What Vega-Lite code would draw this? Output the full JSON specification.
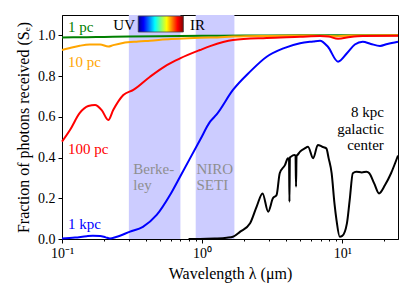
{
  "$schema": "https://vega.github.io/schema/vega-lite/v6.json",
  "width": 336,
  "height": 224,
  "autosize": {"type": "none"},
  "padding": {"left": 62, "top": 15, "right": 17, "bottom": 56},
  "background": "white",
  "config": {
    "view": {"stroke": "black", "strokeWidth": 1},
    "font": "Liberation Serif",
    "axis": {
      "grid": false,
      "domainColor": "black",
      "tickColor": "black",
      "labelColor": "black",
      "titleColor": "black",
      "labelFont": "Liberation Serif",
      "titleFont": "Liberation Serif",
      "labelFontSize": 14,
      "titleFontSize": 16,
      "titleFontWeight": "normal"
    }
  },
  "datasets": {
    "bands": [
      {"lam": 0.3, "lam2": 0.7, "frac": 0, "frac2": 1.1},
      {"lam": 0.9, "lam2": 1.7, "frac": 0, "frac2": 1.1}
    ],
    "curves": [
      {"series": "1 pc", "lam": 0.1, "frac": 0.990},
      {"series": "1 pc", "lam": 0.15, "frac": 0.991},
      {"series": "1 pc", "lam": 0.2, "frac": 0.992},
      {"series": "1 pc", "lam": 0.3, "frac": 0.994},
      {"series": "1 pc", "lam": 0.5, "frac": 0.996},
      {"series": "1 pc", "lam": 1, "frac": 0.998},
      {"series": "1 pc", "lam": 2, "frac": 0.999},
      {"series": "1 pc", "lam": 5, "frac": 1.0},
      {"series": "1 pc", "lam": 25, "frac": 1.0},

      {"series": "10 pc", "lam": 0.1, "frac": 0.928},
      {"series": "10 pc", "lam": 0.114, "frac": 0.938},
      {"series": "10 pc", "lam": 0.134, "frac": 0.949},
      {"series": "10 pc", "lam": 0.158, "frac": 0.955},
      {"series": "10 pc", "lam": 0.187, "frac": 0.955},
      {"series": "10 pc", "lam": 0.214, "frac": 0.945},
      {"series": "10 pc", "lam": 0.232, "frac": 0.952},
      {"series": "10 pc", "lam": 0.272, "frac": 0.963},
      {"series": "10 pc", "lam": 0.35, "frac": 0.970},
      {"series": "10 pc", "lam": 0.425, "frac": 0.974},
      {"series": "10 pc", "lam": 0.6, "frac": 0.982},
      {"series": "10 pc", "lam": 0.8, "frac": 0.986},
      {"series": "10 pc", "lam": 1.12, "frac": 0.989},
      {"series": "10 pc", "lam": 1.7, "frac": 0.994},
      {"series": "10 pc", "lam": 3, "frac": 0.997},
      {"series": "10 pc", "lam": 6, "frac": 0.999},
      {"series": "10 pc", "lam": 9.3, "frac": 0.996},
      {"series": "10 pc", "lam": 12, "frac": 0.999},
      {"series": "10 pc", "lam": 25, "frac": 1.0},

      {"series": "100 pc", "lam": 0.1, "frac": 0.478},
      {"series": "100 pc", "lam": 0.114, "frac": 0.535},
      {"series": "100 pc", "lam": 0.134, "frac": 0.619},
      {"series": "100 pc", "lam": 0.154, "frac": 0.653},
      {"series": "100 pc", "lam": 0.172, "frac": 0.658},
      {"series": "100 pc", "lam": 0.192, "frac": 0.633},
      {"series": "100 pc", "lam": 0.214, "frac": 0.584},
      {"series": "100 pc", "lam": 0.232, "frac": 0.633},
      {"series": "100 pc", "lam": 0.274, "frac": 0.707},
      {"series": "100 pc", "lam": 0.323, "frac": 0.732},
      {"series": "100 pc", "lam": 0.425, "frac": 0.797},
      {"series": "100 pc", "lam": 0.56, "frac": 0.854},
      {"series": "100 pc", "lam": 0.696, "frac": 0.887},
      {"series": "100 pc", "lam": 0.966, "frac": 0.928},
      {"series": "100 pc", "lam": 1.14, "frac": 0.947},
      {"series": "100 pc", "lam": 1.66, "frac": 0.977},
      {"series": "100 pc", "lam": 2.89, "frac": 0.987},
      {"series": "100 pc", "lam": 5.0, "frac": 0.993},
      {"series": "100 pc", "lam": 6.94, "frac": 0.997},
      {"series": "100 pc", "lam": 8.0, "frac": 0.994},
      {"series": "100 pc", "lam": 9.33, "frac": 0.983},
      {"series": "100 pc", "lam": 11.4, "frac": 0.992},
      {"series": "100 pc", "lam": 14, "frac": 0.997},
      {"series": "100 pc", "lam": 25, "frac": 0.998},

      {"series": "1 kpc", "lam": 0.1, "frac": 0.003},
      {"series": "1 kpc", "lam": 0.124, "frac": 0.007},
      {"series": "1 kpc", "lam": 0.15, "frac": 0.014},
      {"series": "1 kpc", "lam": 0.166, "frac": 0.016},
      {"series": "1 kpc", "lam": 0.187, "frac": 0.015},
      {"series": "1 kpc", "lam": 0.205, "frac": 0.008},
      {"series": "1 kpc", "lam": 0.22, "frac": 0.003},
      {"series": "1 kpc", "lam": 0.243, "frac": 0.010},
      {"series": "1 kpc", "lam": 0.306, "frac": 0.036},
      {"series": "1 kpc", "lam": 0.378, "frac": 0.060},
      {"series": "1 kpc", "lam": 0.474, "frac": 0.118},
      {"series": "1 kpc", "lam": 0.59, "frac": 0.216},
      {"series": "1 kpc", "lam": 0.696, "frac": 0.306},
      {"series": "1 kpc", "lam": 0.966, "frac": 0.486},
      {"series": "1 kpc", "lam": 1.14, "frac": 0.576},
      {"series": "1 kpc", "lam": 1.27, "frac": 0.612},
      {"series": "1 kpc", "lam": 1.66, "frac": 0.732},
      {"series": "1 kpc", "lam": 2.2, "frac": 0.822},
      {"series": "1 kpc", "lam": 2.89, "frac": 0.895},
      {"series": "1 kpc", "lam": 3.8, "frac": 0.936},
      {"series": "1 kpc", "lam": 5.0, "frac": 0.961},
      {"series": "1 kpc", "lam": 6.2, "frac": 0.970},
      {"series": "1 kpc", "lam": 6.94, "frac": 0.974},
      {"series": "1 kpc", "lam": 7.9, "frac": 0.944},
      {"series": "1 kpc", "lam": 9.33, "frac": 0.871},
      {"series": "1 kpc", "lam": 10.8, "frac": 0.912},
      {"series": "1 kpc", "lam": 12.3, "frac": 0.955},
      {"series": "1 kpc", "lam": 14, "frac": 0.969},
      {"series": "1 kpc", "lam": 16, "frac": 0.958},
      {"series": "1 kpc", "lam": 18.6, "frac": 0.948},
      {"series": "1 kpc", "lam": 21, "frac": 0.958},
      {"series": "1 kpc", "lam": 25, "frac": 0.969},

      {"series": "8 kpc", "lam": 0.8, "frac": 0.0},
      {"series": "8 kpc", "lam": 0.966, "frac": 0.0},
      {"series": "8 kpc", "lam": 1.23, "frac": 0.002},
      {"series": "8 kpc", "lam": 1.5, "frac": 0.006},
      {"series": "8 kpc", "lam": 1.66, "frac": 0.011},
      {"series": "8 kpc", "lam": 1.87, "frac": 0.036},
      {"series": "8 kpc", "lam": 2.2, "frac": 0.077},
      {"series": "8 kpc", "lam": 2.45, "frac": 0.159},
      {"series": "8 kpc", "lam": 2.7, "frac": 0.224},
      {"series": "8 kpc", "lam": 2.96, "frac": 0.134},
      {"series": "8 kpc", "lam": 3.2, "frac": 0.200},
      {"series": "8 kpc", "lam": 3.4, "frac": 0.216},
      {"series": "8 kpc", "lam": 3.58, "frac": 0.323},
      {"series": "8 kpc", "lam": 3.9, "frac": 0.363},
      {"series": "8 kpc", "lam": 4.1, "frac": 0.396},
      {"series": "8 kpc", "lam": 4.17, "frac": 0.395},
      {"series": "8 kpc", "lam": 4.2, "frac": 0.183},
      {"series": "8 kpc", "lam": 4.23, "frac": 0.40},
      {"series": "8 kpc", "lam": 4.3, "frac": 0.404},
      {"series": "8 kpc", "lam": 4.55, "frac": 0.412},
      {"series": "8 kpc", "lam": 4.64, "frac": 0.41},
      {"series": "8 kpc", "lam": 4.68, "frac": 0.257},
      {"series": "8 kpc", "lam": 4.72, "frac": 0.41},
      {"series": "8 kpc", "lam": 4.78, "frac": 0.412},
      {"series": "8 kpc", "lam": 5.0, "frac": 0.429},
      {"series": "8 kpc", "lam": 5.4, "frac": 0.445},
      {"series": "8 kpc", "lam": 5.7, "frac": 0.453},
      {"series": "8 kpc", "lam": 6.2, "frac": 0.396},
      {"series": "8 kpc", "lam": 6.7, "frac": 0.462},
      {"series": "8 kpc", "lam": 7.2, "frac": 0.453},
      {"series": "8 kpc", "lam": 7.7, "frac": 0.445},
      {"series": "8 kpc", "lam": 8.0, "frac": 0.396},
      {"series": "8 kpc", "lam": 8.4, "frac": 0.323},
      {"series": "8 kpc", "lam": 8.8, "frac": 0.175},
      {"series": "8 kpc", "lam": 9.1, "frac": 0.093},
      {"series": "8 kpc", "lam": 9.6, "frac": 0.011},
      {"series": "8 kpc", "lam": 10.0, "frac": 0.015},
      {"series": "8 kpc", "lam": 10.8, "frac": 0.077},
      {"series": "8 kpc", "lam": 11.3, "frac": 0.191},
      {"series": "8 kpc", "lam": 11.9, "frac": 0.323},
      {"series": "8 kpc", "lam": 12.6, "frac": 0.330},
      {"series": "8 kpc", "lam": 13.8, "frac": 0.327},
      {"series": "8 kpc", "lam": 14.9, "frac": 0.330},
      {"series": "8 kpc", "lam": 15.6, "frac": 0.323},
      {"series": "8 kpc", "lam": 16.9, "frac": 0.273},
      {"series": "8 kpc", "lam": 18.3, "frac": 0.224},
      {"series": "8 kpc", "lam": 20.2, "frac": 0.265},
      {"series": "8 kpc", "lam": 22.3, "frac": 0.323},
      {"series": "8 kpc", "lam": 25, "frac": 0.410}
    ],
    "labels": [
      {"series": "1 pc", "lam": 0.1104, "frac": 1.042, "text": "1 pc"},
      {"series": "10 pc", "lam": 0.1104, "frac": 0.870, "text": "10 pc"},
      {"series": "100 pc", "lam": 0.1104, "frac": 0.442, "text": "100 pc"},
      {"series": "1 kpc", "lam": 0.1104, "frac": 0.072, "text": "1 kpc"}
    ],
    "bandlabels": [
      {"lam": 0.323, "frac": 0.378, "text": "Berke-\nley"},
      {"lam": 0.912, "frac": 0.378, "text": "NIRO\nSETI"}
    ],
    "gc": [
      {"lam": 19.8, "frac": 0.658, "text": "8 kpc\ngalactic\ncenter"}
    ],
    "cbar": [
      {"lam": 0.350, "lam2": 0.735, "frac": 1.0165, "frac2": 1.095}
    ],
    "uv": [
      {"lam": 0.332, "frac": 1.052, "text": "UV"}
    ],
    "ir": [
      {"lam": 0.818, "frac": 1.052, "text": "IR"}
    ]
  },
  "encoding": {
    "x": {
      "field": "lam",
      "type": "quantitative",
      "scale": {"type": "log", "domain": [0.1, 25], "nice": false, "zero": false},
      "axis": {
        "title": "Wavelength λ (μm)",
        "values": [0.1, 0.2, 0.3, 0.4, 0.5, 0.6, 0.7, 0.8, 0.9, 1, 2, 3, 4, 5, 6, 7, 8, 9, 10, 20],
        "labelExpr": "datum.value == 0.1 ? '10⁻¹' : (datum.value == 1 ? '10⁰' : (datum.value == 10 ? '10¹' : ''))",
        "tickSize": {"condition": {"test": "datum.value == 0.1 || datum.value == 1 || datum.value == 10", "value": 4}, "value": 2},
        "labelOverlap": false,
        "labelFlush": false,
        "labelPadding": 3,
        "titlePadding": 5
      }
    },
    "y": {
      "field": "frac",
      "type": "quantitative",
      "scale": {"domain": [0, 1.1], "nice": false, "zero": false},
      "axis": {
        "title": "Fraction of photons received (Sₑ)",
        "values": [0, 0.2, 0.4, 0.6, 0.8, 1.0],
        "format": ".1f",
        "tickSize": 4,
        "labelPadding": 3,
        "titlePadding": 6
      }
    }
  },
  "layer": [
    {
      "data": {"name": "bands"},
      "mark": {"type": "rect", "color": "#ccccff", "opacity": 1},
      "encoding": {
        "x2": {"field": "lam2"},
        "y2": {"field": "frac2"}
      }
    },
    {
      "data": {"name": "curves"},
      "mark": {"type": "line", "strokeWidth": 2, "interpolate": "monotone"},
      "encoding": {
        "color": {
          "field": "series",
          "type": "nominal",
          "scale": {"domain": ["1 pc", "10 pc", "100 pc", "1 kpc", "8 kpc"], "range": ["#008000", "#ffa500", "#ff0000", "#0000ff", "#000000"]},
          "legend": null
        }
      }
    },
    {
      "data": {"name": "labels"},
      "mark": {"type": "text", "align": "left", "baseline": "middle", "fontSize": 15, "font": "Liberation Serif"},
      "encoding": {
        "text": {"field": "text"},
        "color": {"field": "series", "type": "nominal", "legend": null}
      }
    },
    {
      "data": {"name": "bandlabels"},
      "mark": {"type": "text", "align": "left", "baseline": "top", "fontSize": 15, "font": "Liberation Serif", "color": "#8f8f8f", "lineBreak": "\n", "lineHeight": 16},
      "encoding": {"text": {"field": "text"}}
    },
    {
      "data": {"name": "gc"},
      "mark": {"type": "text", "align": "right", "baseline": "top", "fontSize": 15, "font": "Liberation Serif", "color": "black", "lineBreak": "\n", "lineHeight": 16.5},
      "encoding": {"text": {"field": "text"}}
    },
    {
      "data": {"name": "cbar"},
      "mark": {
        "type": "rect",
        "stroke": "#444444",
        "strokeWidth": 0.8,
        "fill": {
          "gradient": "linear",
          "x1": 0, "y1": 0, "x2": 1, "y2": 0,
          "stops": [
            {"offset": 0, "color": "#00008f"},
            {"offset": 0.12, "color": "#0000ff"},
            {"offset": 0.37, "color": "#00ffff"},
            {"offset": 0.5, "color": "#80ff80"},
            {"offset": 0.63, "color": "#ffff00"},
            {"offset": 0.87, "color": "#ff0000"},
            {"offset": 1, "color": "#800000"}
          ]
        }
      },
      "encoding": {
        "x2": {"field": "lam2"},
        "y2": {"field": "frac2"}
      }
    },
    {
      "data": {"name": "uv"},
      "mark": {"type": "text", "align": "right", "baseline": "middle", "fontSize": 15, "font": "Liberation Serif", "color": "black"},
      "encoding": {"text": {"field": "text"}}
    },
    {
      "data": {"name": "ir"},
      "mark": {"type": "text", "align": "left", "baseline": "middle", "fontSize": 15, "font": "Liberation Serif", "color": "black"},
      "encoding": {"text": {"field": "text"}}
    }
  ]
}
